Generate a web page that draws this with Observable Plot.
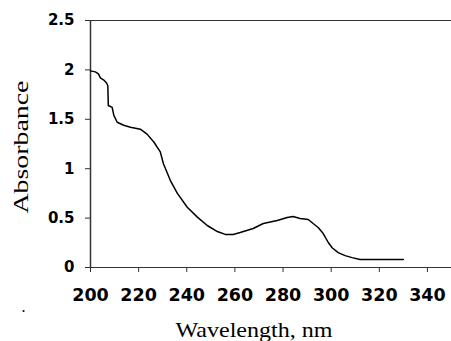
<!DOCTYPE html>
<html>
<head>
<meta charset="utf-8">
<script src="https://cdn.jsdelivr.net/npm/d3@7"></script>
<script src="https://cdn.jsdelivr.net/npm/@observablehq/plot@0.6"></script>
<style>
  html, body { margin: 0; padding: 0; background: #fff; }
</style>
</head>
<body>
<div id="chart"></div>
<script>
const wavelength = [200, 202, 203.3, 204.1, 205.4, 206.6, 207.2, 207.4, 209.0, 209.7, 211.1, 213.8, 216.6, 218.7, 220.7, 223.5, 226.3, 229.0, 230.3, 233.2, 236.1, 240.2, 244.4, 248.5, 252.7, 256.0, 259.3, 262.2, 267.6, 271.8, 277.6, 281.7, 284.2, 287.1, 290.5, 292.5, 294.6, 296.7, 298.8, 300.4, 302.9, 305.8, 308.7, 312.0, 330];
const absorbance = [1.99, 1.98, 1.96, 1.92, 1.90, 1.87, 1.84, 1.64, 1.62, 1.54, 1.47, 1.44, 1.42, 1.41, 1.40, 1.35, 1.27, 1.17, 1.05, 0.88, 0.75, 0.61, 0.51, 0.425, 0.364, 0.335, 0.335, 0.354, 0.395, 0.445, 0.476, 0.506, 0.516, 0.496, 0.486, 0.445, 0.405, 0.344, 0.253, 0.20, 0.15, 0.12, 0.10, 0.08, 0.08];
const xTicks = [200, 220, 240, 260, 280, 300, 320, 340];
const yTicks = [0, 0.5, 1, 1.5, 2, 2.5];
const xTitle = "Wavelength, nm";
const yTitle = "Absorbance";

const data = wavelength.map((w, i) => ({w, a: absorbance[i]}));
const axisColor = "#333";
const tickFont = "DejaVu Sans";
const titleFont = "Liberation Serif";

const chart = Plot.plot({
  width: 451,
  height: 341,
  marginLeft: 90,
  marginRight: 0,
  marginTop: 20,
  marginBottom: 74,
  style: {background: "#fff", color: "#000", overflow: "visible"},
  x: {domain: [200, 350]},
  y: {domain: [0, 2.5]},
  marks: [
    Plot.ruleY([2.5], {stroke: axisColor, strokeWidth: 1}),
    Plot.ruleY([0], {stroke: axisColor, strokeWidth: 1.2}),
    Plot.ruleX([200], {stroke: axisColor, strokeWidth: 1.5}),
    Plot.axisY({ticks: yTicks, tickSize: 5, tickPadding: 11, stroke: axisColor,
      tickFormat: d => String(d), fontSize: 15, fontWeight: "bold", fontFamily: tickFont, fill: "#000", label: null}),
    Plot.axisX({ticks: xTicks, tickSize: 5, tickPadding: 16, stroke: axisColor,
      tickFormat: d => String(d), fontSize: 17.5, fontWeight: "bold", fontFamily: tickFont, fill: "#000", label: null}),
    Plot.line(data, {x: "w", y: "a", stroke: "#000", strokeWidth: 1.5}),
    Plot.text([xTitle], {frameAnchor: "bottom", dx: -17, dy: 69, lineAnchor: "bottom", textAnchor: "middle",
      fontSize: 21, fontFamily: titleFont, fill: "#000"}),
    Plot.text([yTitle], {frameAnchor: "left", dx: -63, dy: 3, rotate: -90, lineAnchor: "bottom", textAnchor: "middle",
      fontSize: 20, fontFamily: titleFont, fill: "#000"}),
    Plot.text(["."], {frameAnchor: "bottom-left", dx: -67, dy: 44, lineAnchor: "bottom", textAnchor: "middle",
      fontSize: 16, fontFamily: titleFont, fill: "#000"})
  ]
});

d3.select(chart).selectAll("text").each(function() {
  const t = this.textContent;
  if (t === xTitle) d3.select(this).attr("textLength", 157).attr("lengthAdjust", "spacingAndGlyphs");
  if (t === yTitle) d3.select(this).attr("textLength", 133).attr("lengthAdjust", "spacingAndGlyphs");
});

document.getElementById("chart").appendChild(chart);
</script>
</body>
</html>
